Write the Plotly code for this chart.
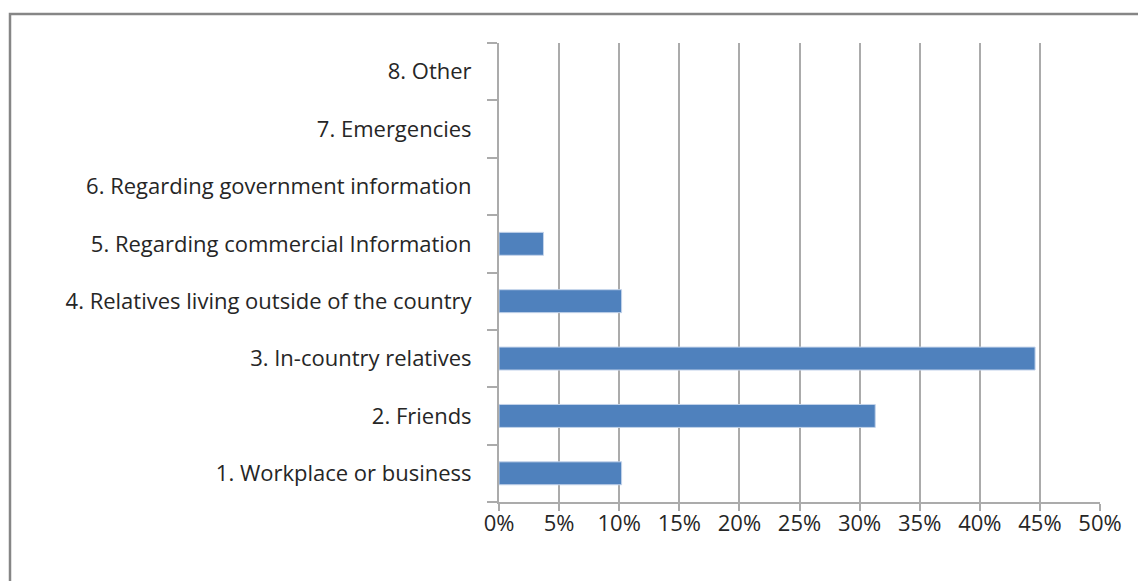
import plotly.graph_objects as go

# Purposes of calls, in the order they are listed (bottom to top)
categories = [
    "1. Workplace or business",
    "2. Friends",
    "3. In-country relatives",
    "4. Relatives living outside of the country",
    "5. Regarding commercial Information",
    "6. Regarding government information",
    "7. Emergencies",
    "8. Other",
]
shares = [10.2, 31.3, 44.6, 10.2, 3.7, 0, 0, 0]  # percent of respondents
x_ticks = [0, 5, 10, 15, 20, 25, 30, 35, 40, 45, 50]
x_tick_text = [f"{v}%" for v in x_ticks]

W, H = 1138, 581
L, R, T, B = 499, 38, 43, 79
plot_w = W - L - R
plot_h = H - T - B

FONT = "'Open Sans', sans-serif"
GRID = "#ababab"

fig = go.Figure(
    go.Bar(
        x=shares,
        y=categories,
        orientation="h",
        width=0.4,
        marker=dict(
            color="#4f81bd",
            line=dict(color="#c3d3ea", width=[1 if v > 0 else 0 for v in shares]),
        ),
        hoverinfo="x+y",
    )
)

fig.update_layout(
    width=W,
    height=H,
    margin=dict(l=L, r=R, t=T, b=B, pad=0),
    paper_bgcolor="white",
    plot_bgcolor="white",
    showlegend=False,
    font=dict(family=FONT, size=22, color="#262626"),
    xaxis=dict(
        range=[0, 50],
        tickvals=x_ticks,
        ticktext=x_tick_text,
        showgrid=True,
        gridcolor=GRID,
        gridwidth=2,
        zeroline=False,
        showline=True,
        linecolor=GRID,
        linewidth=2,
        ticks="outside",
        ticklen=7,
        tickwidth=2,
        tickcolor=GRID,
        ticklabelstandoff=-6,
        fixedrange=True,
    ),
    yaxis=dict(
        type="category",
        categoryorder="array",
        categoryarray=categories,
        range=[-0.5, 7.5],
        showgrid=False,
        zeroline=False,
        showline=True,
        linecolor=GRID,
        linewidth=2,
        ticks="outside",
        tickson="boundaries",
        ticklen=10,
        tickwidth=2,
        tickcolor=GRID,
        ticklabelstandoff=21,
        fixedrange=True,
    ),
)

# Outer chart frame (top and left edges visible; the rest runs off the page)
def px_to_paper_x(px):
    return (px - L) / plot_w

def px_to_paper_y(py):
    return (H - B - py) / plot_h

fig.add_shape(
    type="rect",
    xref="paper",
    yref="paper",
    x0=px_to_paper_x(10),
    x1=px_to_paper_x(W + 20),
    y0=px_to_paper_y(H + 20),
    y1=px_to_paper_y(14),
    line=dict(color="#868686", width=2.5),
    fillcolor="rgba(0,0,0,0)",
    layer="above",
)

fig.write_html("out.html")
